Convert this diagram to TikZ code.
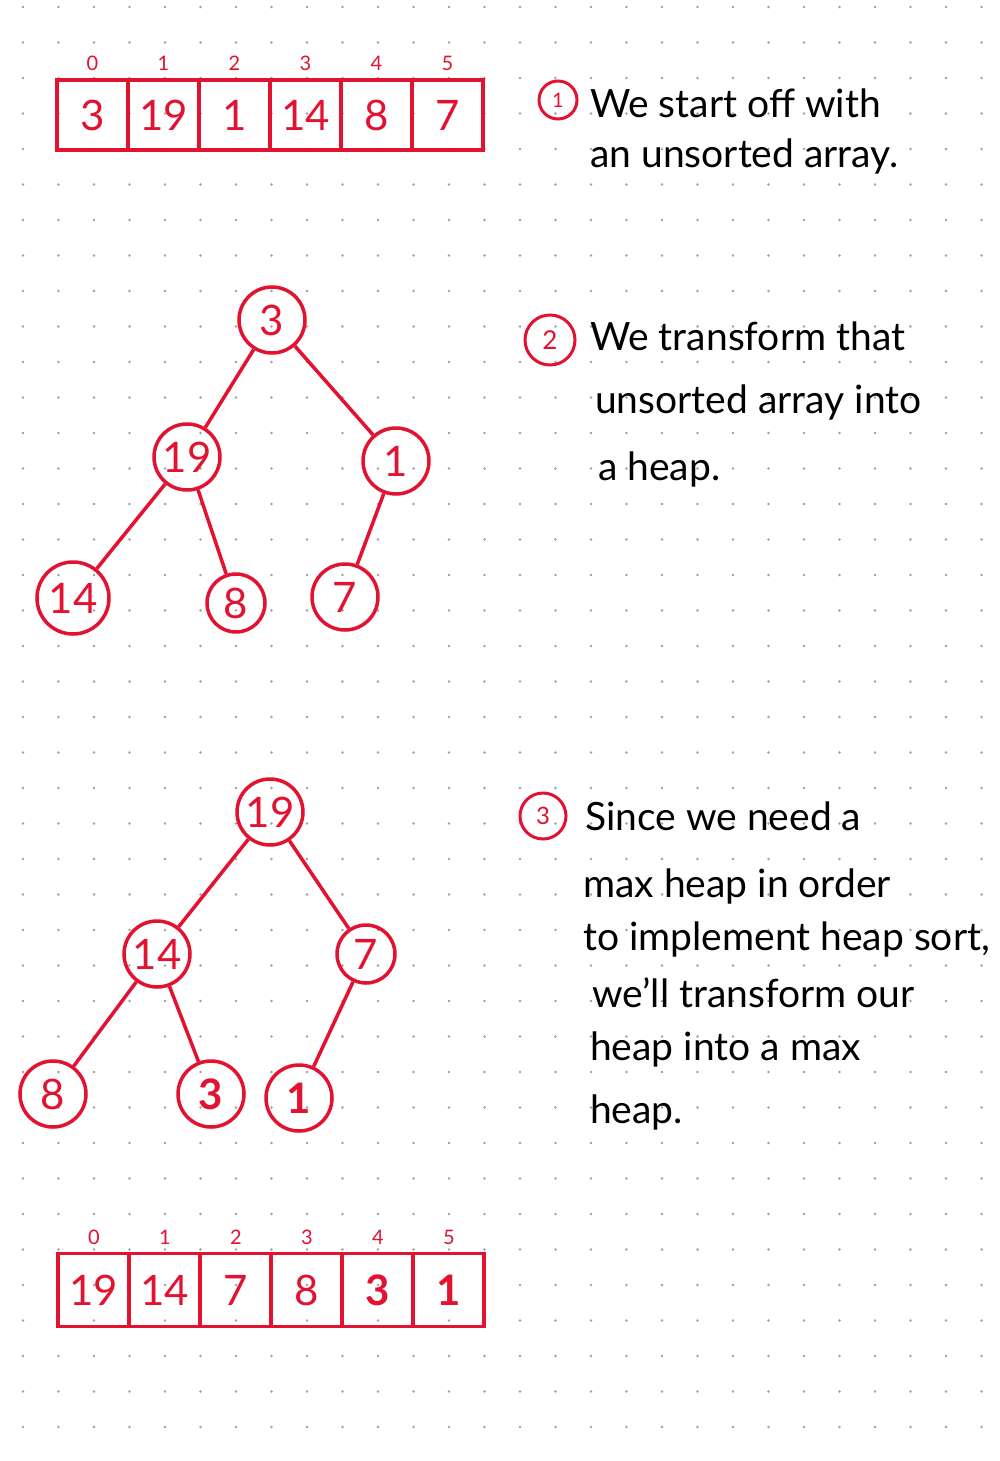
\documentclass[tikz,border=0pt]{standalone}
\usepackage{fontspec}
\setmainfont{Lato}
\usepackage{tikz}
\usetikzlibrary{positioning}
\definecolor{inkred}{RGB}{226,18,48}
\definecolor{dotgray}{RGB}{160,160,160}

\tikzset{
  cell/.style={draw=inkred, line width=3.8pt, minimum width=71pt, minimum height=70pt,
    inner sep=0pt, outer sep=0pt, text=inkred, font=\fontsize{42}{42}\selectfont},
  idx/.style={text=inkred, inner sep=0pt, font=\fontsize{20}{20}\selectfont},
  heapnode/.style={circle, draw=inkred, line width=3.5pt, text=inkred, inner sep=0pt,
    minimum size=66pt, font=\fontsize{42}{42}\selectfont},
  edge/.style={draw=inkred, line width=3.5pt},
  stepnum/.style={circle, draw=inkred, line width=3pt, text=inkred, inner sep=0pt},
  txt/.style={anchor=base west, inner sep=0pt, font=\fontsize{39}{39}\selectfont},
}

\begin{document}
\begin{tikzpicture}[x=1pt, y=-1pt]

\useasboundingbox[fill=white] (0,0) rectangle (1000,1461);

% dotted paper
\foreach \i in {0,...,27}
  \foreach \j in {0,...,40}
    \fill[dotgray] ({23+35.5*\i},{7+35.5*\j}) circle (1.3pt);

% unsorted array
\node[cell] (a0) at (92.5,115) {3};
\node[cell, right=0pt of a0] (a1) {19};
\node[cell, right=0pt of a1] (a2) {1};
\node[cell, right=0pt of a2] (a3) {14};
\node[cell, right=0pt of a3] (a4) {8};
\node[cell, right=0pt of a4] (a5) {7};
\foreach \k in {0,...,5}
  \node[idx, above=9pt of a\k] (ia\k) {\k};

% step 1
\node[stepnum, minimum size=38pt, font=\fontsize{20}{20}\selectfont] (s1) at (558,100) {1};
\node[txt] (s1a) at (590,118) {We start off with};
\node[txt] (s1b) at (590,167) {an unsorted array.};

% first heap
\node[heapnode] (h3) at (272,320) {3};
\node[heapnode] (h19) at (187,457) {19};
\node[heapnode] (h1) at (396,461) {1};
\node[heapnode, minimum size=72pt] (h14) at (73,598) {14};
\node[heapnode, minimum size=58pt] (h8) at (236,603) {8};
\node[heapnode] (h7) at (345,597) {7};
\draw[edge] (h3) -- (h19);
\draw[edge] (h3) -- (h1);
\draw[edge] (h19) -- (h14);
\draw[edge] (h19) -- (h8);
\draw[edge] (h1) -- (h7);

% step 2
\node[stepnum, minimum size=50pt, font=\fontsize{26}{26}\selectfont] (s2) at (550,340) {2};
\node[txt] (s2a) at (590,350) {We transform that};
\node[txt] (s2b) at (595,413) {unsorted array into};
\node[txt] (s2c) at (598,480) {a heap.};

% max heap
\node[heapnode] (m19) at (270,812) {19};
\node[heapnode] (m14) at (157,954) {14};
\node[heapnode, minimum size=58pt] (m7) at (366,954) {7};
\node[heapnode] (m8) at (53,1094) {8};
\node[heapnode] (m3) at (211,1094) {\bfseries 3};
\node[heapnode] (m1) at (299,1098) {\bfseries 1};
\draw[edge] (m19) -- (m14);
\draw[edge] (m19) -- (m7);
\draw[edge] (m14) -- (m8);
\draw[edge] (m14) -- (m3);
\draw[edge] (m7) -- (m1);

% step 3
\node[stepnum, minimum size=46pt, font=\fontsize{24}{24}\selectfont] (s3) at (543,816) {3};
\node[txt] (s3a) at (585,830) {Since we need a};
\node[txt] (s3b) at (583,897) {max heap in order};
\node[txt] (s3c) at (583,950) {to implement heap sort,};
\node[txt] (s3d) at (592,1007) {we'll transform our};
\node[txt] (s3e) at (590,1060) {heap into a max};
\node[txt] (s3f) at (590,1123) {heap.};

% sorted array
\node[cell, minimum height=73pt] (b0) at (93.8,1290) {19};
\node[cell, minimum height=73pt, right=0pt of b0] (b1) {14};
\node[cell, minimum height=73pt, right=0pt of b1] (b2) {7};
\node[cell, minimum height=73pt, right=0pt of b2] (b3) {8};
\node[cell, minimum height=73pt, right=0pt of b3] (b4) {\bfseries 3};
\node[cell, minimum height=73pt, right=0pt of b4] (b5) {\bfseries 1};
\foreach \k in {0,...,5}
  \node[idx, above=9pt of b\k] (ib\k) {\k};

\end{tikzpicture}
\end{document}
